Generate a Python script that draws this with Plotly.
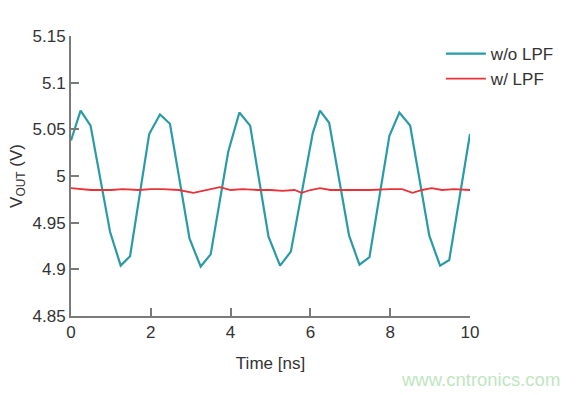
import plotly.graph_objects as go

t_nolpf = [0, 0.24, 0.49, 0.98, 1.245, 1.48, 1.96, 2.23, 2.48, 2.97, 3.25, 3.5, 3.94, 4.22, 4.49,
           4.95, 5.24, 5.51, 6.06, 6.24, 6.47, 6.97, 7.23, 7.48, 7.98, 8.23, 8.5, 8.98, 9.25, 9.48, 10]
v_nolpf = [5.038, 5.070, 5.054, 4.940, 4.904, 4.914, 5.045, 5.066, 5.056, 4.933, 4.903, 4.916, 5.026, 5.068, 5.054,
           4.935, 4.904, 4.919, 5.046, 5.070, 5.057, 4.936, 4.905, 4.913, 5.043, 5.068, 5.054, 4.936, 4.904, 4.910, 5.045]

t_lpf = [0, 0.5, 1.0, 1.3, 1.7, 2.0, 2.3, 2.7, 3.07, 3.4, 3.73, 4.0, 4.3, 4.7, 5.0, 5.3, 5.6, 5.78, 6.0, 6.24,
         6.5, 7.0, 7.5, 8.0, 8.3, 8.56, 8.8, 9.04, 9.3, 9.6, 10]
v_lpf = [4.987, 4.985, 4.985, 4.986, 4.985, 4.986, 4.986, 4.985, 4.982, 4.985, 4.988, 4.985, 4.986, 4.985, 4.985,
         4.984, 4.985, 4.982, 4.985, 4.987, 4.985, 4.985, 4.985, 4.986, 4.986, 4.982, 4.985, 4.987, 4.985, 4.986, 4.985]

x_ticks = [0, 2, 4, 6, 8, 10]
y_ticks = [4.85, 4.9, 4.95, 5.0, 5.05, 5.1, 5.15]
y_labels = ["4.85", "4.9", "4.95", "5", "5.05", "5.1", "5.15"]

font = "Liberation Sans, Arial, Helvetica, sans-serif"
txt = "#333333"
fig = go.Figure()
fig.add_trace(go.Scatter(x=t_nolpf, y=v_nolpf, mode="lines", name="w/o LPF",
                         line=dict(color="#2a9ba6", width=2.2)))
fig.add_trace(go.Scatter(x=t_lpf, y=v_lpf, mode="lines", name="w/ LPF",
                         line=dict(color="#e8323a", width=1.8)))

axis_common = dict(showgrid=False, zeroline=False, showline=True, linecolor="#7a7a7a", linewidth=2,
                   ticks="inside", ticklen=8, tickwidth=1.5, tickcolor="#7a7a7a", automargin=False,
                   tickfont=dict(size=17, color=txt, family=font))
fig.update_xaxes(range=[0, 10], tickvals=x_ticks,
                 title=dict(text="Time [ns]", font=dict(size=17, color=txt), standoff=16),
                 **axis_common)
fig.update_yaxes(range=[4.85, 5.15], tickvals=y_ticks, ticktext=y_labels,
                 title=dict(text="V<sub>OUT</sub> (V)", font=dict(size=17, color=txt), standoff=6),
                 **axis_common)

fig.update_layout(
    width=581, height=395,
    margin=dict(l=71, r=111, t=36, b=79, autoexpand=False),
    plot_bgcolor="white", paper_bgcolor="white",
    font=dict(family=font, size=17, color=txt),
    legend=dict(x=0.927, y=1.0, xanchor="left", yanchor="top", xref="paper", yref="paper",
                font=dict(size=17), bgcolor="rgba(0,0,0,0)", itemwidth=40, tracegroupgap=0),
    annotations=[dict(text="www.cntronics.com", x=1.2306, y=-0.225, xref="paper", yref="paper",
                      xanchor="right", yanchor="middle", showarrow=False,
                      font=dict(size=18.5, color="#bfe6bf"))],
)
fig.write_html("out.html", config={"displayModeBar": False},
               post_script="document.body.style.margin='0';document.body.style.overflow='hidden';")
